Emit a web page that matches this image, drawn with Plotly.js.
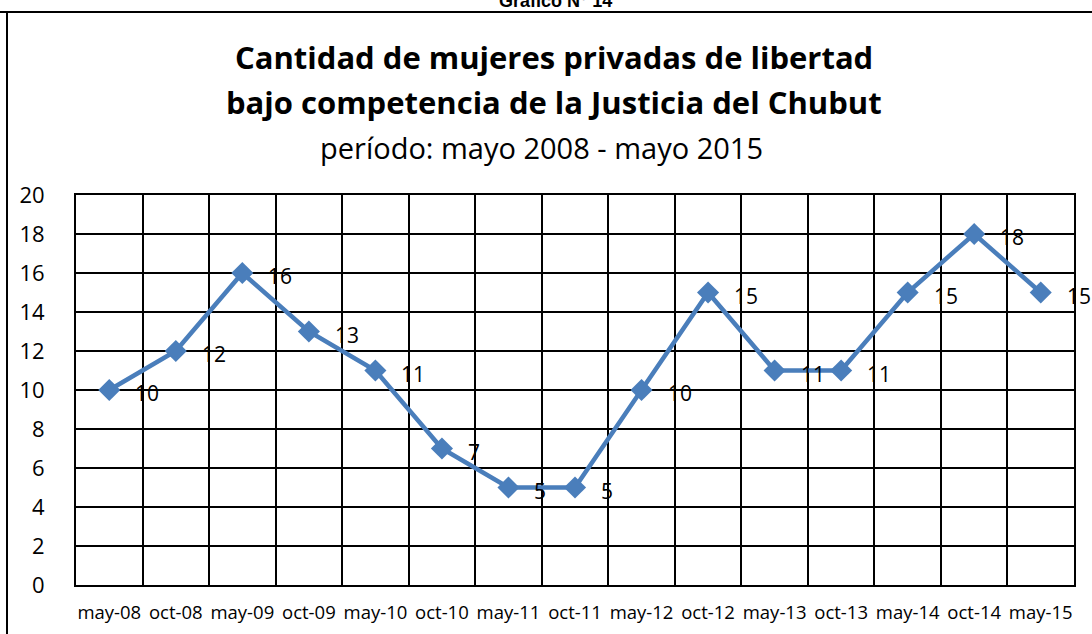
<!DOCTYPE html>
<html>
<head>
<meta charset="utf-8">
<script src="https://cdn.plot.ly/plotly-3.0.1.min.js"></script>
<style>
html,body{margin:0;padding:0;background:#fff;}
#chart{width:1092px;height:634px;}
</style>
</head>
<body>
<div id="chart"></div>
<script>
const categories = ["may-08","oct-08","may-09","oct-09","may-10","oct-10","may-11","oct-11","may-12","oct-12","may-13","oct-13","may-14","oct-14","may-15"];
const values = [10,12,16,13,11,7,5,5,10,15,11,11,15,18,15];
const yTicks = [0,2,4,6,8,10,12,14,16,18,20];

const W = 1092, H = 634;
const mL = 76, mR = 18, mT = 195, mB = 49;
const pw = W - mL - mR, ph = H - mT - mB;
const px = x => (x - mL) / pw;
const py = y => (H - mB - y) / ph;

const xIdx = categories.map((c, i) => i);
const FONT = "Open Sans, Calibri, sans-serif";

const trace = {
  x: xIdx, y: values, type: "scatter", mode: "lines+markers",
  line: {color: "#4A7EBB", width: 4.5},
  marker: {symbol: "diamond", size: 17, color: "#4A7EBB"},
  hoverinfo: "skip", cliponaxis: false
};

const labelAnns = values.map((v, i) => ({
  x: i, y: v, xref: "x", yref: "y", text: String(v), showarrow: false,
  xanchor: "left", yanchor: "middle", xshift: 24, yshift: -3,
  font: {family: FONT, size: 21, color: "#000"}
}));

const titleAnns = [
  {text: "<b>Gráfico N° 14</b>", x: px(555), y: py(1), xref: "paper", yref: "paper", xanchor: "center", yanchor: "middle", showarrow: false, font: {family: "Liberation Sans, Arial, sans-serif", size: 18, color: "#000"}},
  {text: "<b>Cantidad de mujeres privadas de libertad</b>", x: px(554), y: py(57), xref: "paper", yref: "paper", xanchor: "center", yanchor: "middle", showarrow: false, font: {family: FONT, size: 31, color: "#000"}},
  {text: "<b>bajo competencia de la Justicia del Chubut</b>", x: px(554), y: py(102), xref: "paper", yref: "paper", xanchor: "center", yanchor: "middle", showarrow: false, font: {family: FONT, size: 31, color: "#000"}},
  {text: "período: mayo 2008 - mayo 2015", x: px(541), y: py(147), xref: "paper", yref: "paper", xanchor: "center", yanchor: "middle", showarrow: false, font: {family: FONT, size: 29, color: "#000"}}
];

const layout = {
  width: W, height: H,
  margin: {l: mL, r: mR, t: mT, b: mB, pad: 0},
  paper_bgcolor: "#fff", plot_bgcolor: "#fff",
  showlegend: false,
  font: {family: FONT, color: "#000"},
  xaxis: {
    range: [-0.5, categories.length - 0.5],
    tickmode: "array", tickvals: xIdx, ticktext: categories,
    showgrid: false, zeroline: false, showline: true, linecolor: "#000", linewidth: 2,
    mirror: true, ticks: "", tickfont: {family: FONT, size: 18.5, color: "#000"},
    ticklabelstandoff: 10,
    minor: {tickmode: "array", tickvals: categories.map((c, i) => i - 0.5).concat([categories.length - 0.5]), showgrid: true, gridcolor: "#000", gridwidth: 2, ticks: ""},
    fixedrange: true
  },
  yaxis: {
    range: [0, 20], tickmode: "array", tickvals: yTicks,
    showgrid: true, gridcolor: "#000", gridwidth: 2, zeroline: false,
    showline: true, linecolor: "#000", linewidth: 2, mirror: true, ticks: "",
    tickfont: {family: FONT, size: 22, color: "#000"}, ticklabelstandoff: 25,
    fixedrange: true
  },
  annotations: titleAnns.concat(labelAnns),
  shapes: [
    {type: "line", xref: "paper", yref: "paper", x0: px(0), x1: px(W), y0: py(12), y1: py(12), line: {color: "#000", width: 2}},
    {type: "line", xref: "paper", yref: "paper", x0: px(7), x1: px(7), y0: py(12), y1: py(H + 5), line: {color: "#000", width: 2}}
  ]
};

Plotly.newPlot("chart", [trace], layout, {displayModeBar: false, staticPlot: true});
</script>
</body>
</html>
